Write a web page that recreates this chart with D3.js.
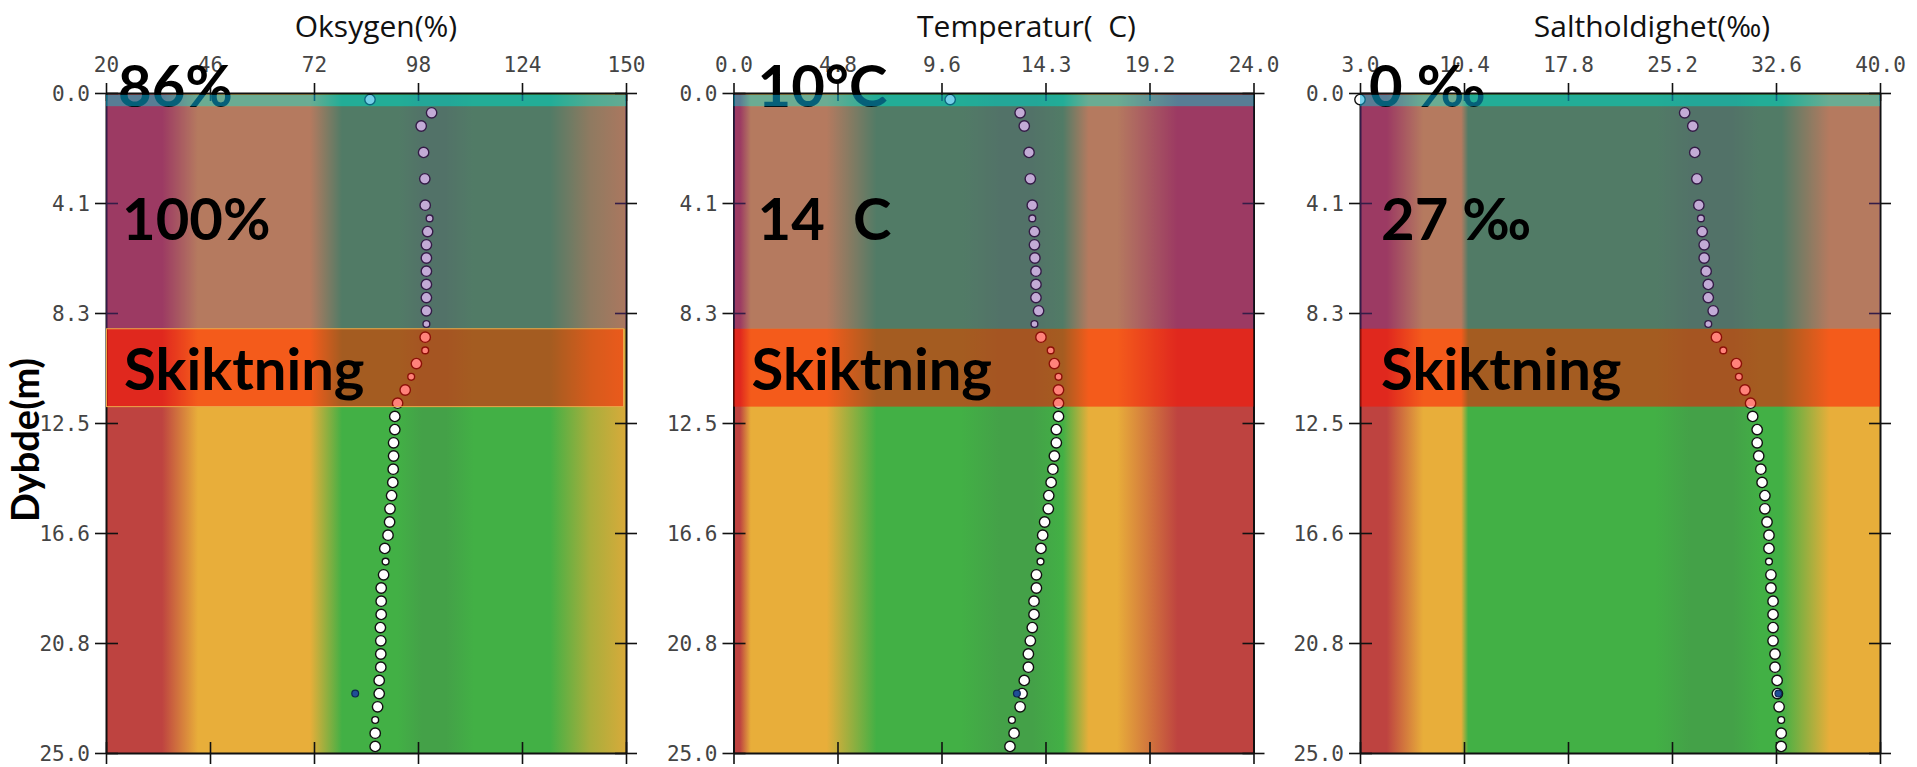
<!DOCTYPE html>
<html>
<head>
<meta charset="utf-8">
<script src="https://cdn.jsdelivr.net/npm/d3@7"></script>
<style>
  html, body { margin: 0; padding: 0; background: #fff; }
  svg { display: block; }
</style>
</head>
<body>
<svg id="chart" width="1917" height="767"></svg>
<script>
// ---- Profile readings -------------------------------------------------
const depths = [0.25, 0.75, 1.25, 2.25, 3.25, 4.25, 4.75, 5.25, 5.75, 6.25, 6.75, 7.25, 7.75, 8.25, 8.75,
  9.25, 9.75, 10.25, 10.75, 11.25, 11.75, 12.25, 12.75, 13.25, 13.75, 14.25, 14.75, 15.25, 15.75, 16.25,
  16.75, 17.25, 17.75, 18.25, 18.75, 19.25, 19.75, 20.25, 20.75, 21.25, 21.75, 22.25, 22.75, 23.25, 23.75,
  24.25, 24.75];

const oxygen = [86, 101.4, 98.8, 99.4, 99.7, 99.8, 100.9, 100.4, 100.1, 100.1, 100.1, 100.1, 100.1, 100.1, 100.1,
  99.8, 99.8, 97.6, 96.3, 94.8, 92.9, 92.2, 92.2, 91.9, 91.9, 91.8, 91.7, 91.4, 91.0, 90.9,
  90.5, 89.7, 89.9, 89.4, 88.8, 88.8, 88.8, 88.6, 88.7, 88.7, 88.7, 88.3, 88.3, 87.9, 87.3,
  87.3, 87.3];

const temperature = [10, 13.23, 13.42, 13.64, 13.70, 13.79, 13.79, 13.89, 13.89, 13.91, 13.96, 13.96, 13.96, 14.08, 13.89,
  14.19, 14.64, 14.81, 15.0, 15.0, 15.0, 15.0, 14.9, 14.9, 14.81, 14.74, 14.66, 14.55, 14.53, 14.36,
  14.27, 14.19, 14.17, 13.98, 13.98, 13.87, 13.87, 13.79, 13.70, 13.61, 13.61, 13.42, 13.32, 13.23, 12.85,
  12.95, 12.76];

const salinity = [0, 26.10, 26.68, 26.82, 26.97, 27.11, 27.26, 27.35, 27.49, 27.49, 27.63, 27.78, 27.78, 28.13, 27.78,
  28.36, 28.85, 29.78, 29.96, 30.39, 30.79, 30.94, 31.26, 31.26, 31.37, 31.52, 31.61, 31.81, 31.81, 31.96,
  32.10, 32.10, 32.10, 32.24, 32.24, 32.39, 32.39, 32.39, 32.39, 32.53, 32.53, 32.68, 32.70, 32.82, 32.97,
  32.97, 32.97];

// Separate control sample taken at one depth
const checkDepth = 22.75;
const checkOxygen = 82.3;
const checkTemperature = 13.08;
const checkSalinity = 32.77;

// Layers: surface film, upper mixed layer, stratification (Skiktning)
const surfaceLayer = [0.07, 0.5];
const upperLayer = [0.5, 8.93];
const stratLayer = [8.93, 11.88];

// Axis ticks and their printed labels
const depthTicks = [0, 25 / 6, 50 / 6, 12.5, 100 / 6, 125 / 6, 25];
const depthTickLabels = ["0.0", "4.1", "8.3", "12.5", "16.6", "20.8", "25.0"];
const oxygenTicks = [20, 46, 72, 98, 124, 150];
const oxygenTickLabels = ["20", "46", "72", "98", "124", "150"];
const temperatureTicks = [0, 4.8, 9.6, 14.4, 19.2, 24];
const temperatureTickLabels = ["0.0", "4.8", "9.6", "14.3", "19.2", "24.0"];
const salinityTicks = [3, 10.4, 17.8, 25.2, 32.6, 40];
const salinityTickLabels = ["3.0", "10.4", "17.8", "25.2", "32.6", "40.0"];

const titles = ["Oksygen(%)", "Temperatur(  C)", "Saltholdighet(‰)"];
const surfaceLabels = ["86%", "10°C", "0 ‰"];
const upperLabels = ["100%", "14  C", "27 ‰"];
const stratLabel = "Skiktning";
const depthTitle = "Dybde(m)";

// Quality zones along each value axis (value, zone colour)
const oxygenZones = [[20, "bad"], [34, "bad"], [43, "fair"], [71, "fair"], [79, "good"], [93, "good"],
  [99, "best"], [105, "best"], [112, "good"], [131, "good"], [141, "olive"], [150, "edge"]];
const temperatureZones = [[0, "bad"], [0.3, "bad"], [0.8, "fair"], [4.3, "fair"], [6.6, "good"], [10.5, "good"],
  [12.3, "best"], [13.8, "best"], [15.2, "good"], [16.4, "fair"], [17.7, "fair"], [20.5, "bad"], [24, "bad"]];
const salinityZones = [[3, "bad"], [4.9, "bad"], [7.5, "fair"], [10.2, "fair"], [10.7, "good"], [24, "good"],
  [26.5, "best"], [29.5, "best"], [31.5, "good"], [33, "good"], [36.4, "fair"], [40, "fair"]];

// ---- Drawing ------------------------------------------------------------
const zoneColor = {
  bad: "#BE4340", fair: "#E8AE3A", good: "#42B045", best: "#44A148", olive: "#A8AE3C", edge: "#D8AA3A"
};
const minorDepths = new Set([4.75, 8.75, 9.75, 10.75, 17.75, 23.75]);

const svg = d3.select("#chart");
const defs = svg.append("defs");

const plotTop = 93, plotBottom = 753, plotWidth = 520;
const panelLefts = [106, 733.5, 1360];
const titleShift = [10, 33, 32];
const surfaceLabelDx = [12, 24, 9];
const upperLabelDx = [16, 24, 21];
const stratLabelDx = [18, 18, 21];

const y = d3.scaleLinear().domain([0, 25]).range([plotTop, plotBottom]);

const panels = [
  { domain: [20, 150], ticks: oxygenTicks, labels: oxygenTickLabels, values: oxygen, check: checkOxygen, zones: oxygenZones, outlined: true },
  { domain: [0, 24], ticks: temperatureTicks, labels: temperatureTickLabels, values: temperature, check: checkTemperature, zones: temperatureZones, outlined: false },
  { domain: [3, 40], ticks: salinityTicks, labels: salinityTickLabels, values: salinity, check: checkSalinity, zones: salinityZones, outlined: false }
];

const labelFont = "'DejaVu Sans Mono', monospace";
const bigFont = "Lato, 'Open Sans', sans-serif";
const titleFont = "'Open Sans', 'Noto Sans', sans-serif";

function styleAxis(sel) {
  sel.select(".domain").attr("stroke", "#111").attr("stroke-width", 2);
  sel.selectAll(".tick line").attr("stroke", "#111").attr("stroke-width", 1.6);
  sel.selectAll(".tick text")
    .attr("font-family", labelFont).attr("font-size", 21).attr("fill", "#444");
}

panels.forEach((p, i) => {
  const x0 = panelLefts[i], x1 = x0 + plotWidth;
  const x = d3.scaleLinear().domain(p.domain).range([x0, x1]).clamp(true);
  const g = svg.append("g");

  // horizontal colour gradient built from the zone stops
  const gid = "zones" + i;
  const grad = defs.append("linearGradient").attr("id", gid)
    .attr("gradientUnits", "userSpaceOnUse")
    .attr("x1", x0).attr("x2", x1).attr("y1", 0).attr("y2", 0);
  p.zones.forEach(([v, c]) => {
    grad.append("stop").attr("offset", (x(v) - x0) / (x1 - x0)).attr("stop-color", zoneColor[c]);
  });
  g.append("rect")
    .attr("x", x0).attr("y", y(0)).attr("width", x1 - x0).attr("height", y(25) - y(0))
    .attr("fill", `url(#${gid})`);

  // axes on all four sides, ticks crossing the frame
  const fmt = (vals, labs) => v => labs[vals.indexOf(v)];
  const top = g.append("g").attr("transform", `translate(0,${y(0)})`)
    .call(d3.axisTop(x).tickValues(p.ticks).tickFormat(fmt(p.ticks, p.labels)).tickSizeOuter(0).tickSizeInner(10));
  top.selectAll(".tick line").attr("y1", 8).attr("y2", -10);
  top.selectAll(".tick text").attr("y", -21).attr("dy", null);
  styleAxis(top);

  const bottom = g.append("g").attr("transform", `translate(0,${y(25)})`)
    .call(d3.axisBottom(x).tickValues(p.ticks).tickFormat("").tickSizeOuter(0).tickSizeInner(11));
  bottom.selectAll(".tick line").attr("y1", -11).attr("y2", 11);
  styleAxis(bottom);

  const left = g.append("g").attr("transform", `translate(${x0},0)`)
    .call(d3.axisLeft(y).tickValues(depthTicks).tickFormat(fmt(depthTicks, depthTickLabels)).tickSizeOuter(0).tickSizeInner(11));
  left.selectAll(".tick line").attr("x1", 12).attr("x2", -11);
  left.selectAll(".tick text").attr("x", -16).attr("dy", "0.36em");
  styleAxis(left);

  const right = g.append("g").attr("transform", `translate(${x1},0)`)
    .call(d3.axisRight(y).tickValues(depthTicks).tickFormat("").tickSizeOuter(0).tickSizeInner(11));
  right.selectAll(".tick line").attr("x1", -11).attr("x2", 11);
  styleAxis(right);

  // profile markers
  g.append("g").selectAll("circle")
    .data(depths.map((d, k) => ({ d, v: p.values[k] })))
    .join("circle")
    .attr("cx", r => x(r.v))
    .attr("cy", r => y(r.d))
    .attr("r", r => minorDepths.has(r.d) ? 3.4 : 5.2)
    .attr("fill", "#fff")
    .attr("stroke", "#111")
    .attr("stroke-width", 1.4);

  // control sample
  g.append("circle")
    .attr("cx", x(p.check)).attr("cy", y(checkDepth)).attr("r", 3.4)
    .attr("fill", "#1F4E96").attr("stroke", "#0B2550").attr("stroke-width", 1.2);

  // translucent layer bands
  g.append("rect")
    .attr("x", x0).attr("y", y(upperLayer[0])).attr("width", x1 - x0)
    .attr("height", y(upperLayer[1]) - y(upperLayer[0]))
    .attr("fill", "rgb(105,45,152)").attr("fill-opacity", 0.4);

  g.append("rect")
    .attr("x", x0 + (p.outlined ? 0.5 : 0)).attr("y", y(stratLayer[0]))
    .attr("width", x1 - x0 - (p.outlined ? 3 : 0))
    .attr("height", y(stratLayer[1]) - y(stratLayer[0]))
    .attr("fill", "rgb(255,15,0)").attr("fill-opacity", 0.52)
    .attr("stroke", p.outlined ? "#EDA84A" : "none").attr("stroke-width", 1);

  // layer captions
  const caption = (txt, dx, yy) => g.append("text")
    .attr("x", x0 + dx).attr("y", yy)
    .attr("font-family", bigFont).attr("font-weight", 700).attr("font-size", 58)
    .attr("fill", "#000").style("white-space", "pre")
    .text(txt);
  caption(upperLabels[i], upperLabelDx[i], 240);
  caption(stratLabel, stratLabelDx[i], 390);
  caption(surfaceLabels[i], surfaceLabelDx[i], 107);

  g.append("rect")
    .attr("x", x0).attr("y", y(surfaceLayer[0])).attr("width", x1 - x0)
    .attr("height", y(surfaceLayer[1]) - y(surfaceLayer[0]))
    .attr("fill", "rgb(9,171,216)").attr("fill-opacity", 0.56);

  // panel title
  svg.append("text")
    .attr("x", (x0 + x1) / 2 + titleShift[i]).attr("y", 37)
    .attr("text-anchor", "middle")
    .attr("font-family", titleFont).attr("font-size", 30).attr("fill", "#111")
    .style("white-space", "pre")
    .text(titles[i]);
});

// shared depth axis title
svg.append("text")
  .attr("transform", "translate(39,440) rotate(-90)")
  .attr("text-anchor", "middle")
  .attr("font-family", bigFont).attr("font-weight", 700).attr("font-size", 38)
  .attr("fill", "#000")
  .text(depthTitle);
</script>
</body>
</html>
